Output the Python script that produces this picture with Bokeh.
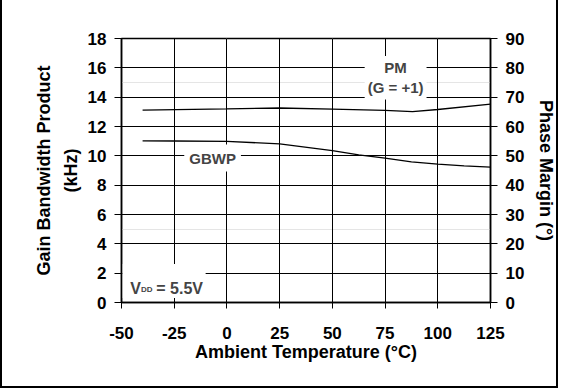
import math
from bokeh.plotting import figure
from bokeh.models import Range1d, LinearAxis, Label, BoxAnnotation, FixedTicker, Grid
from bokeh.embed import file_html
from bokeh.resources import INLINE

# ---- data ----
temperature_gbwp = [-40, -25, 0, 25, 50, 62.5, 75, 87.5, 100, 112.5, 125]
gbwp_khz = [11.02, 11.01, 10.98, 10.82, 10.36, 10.07, 9.84, 9.59, 9.43, 9.32, 9.23]
temperature_pm = [-40, 0, 25, 50, 75, 88, 100, 125]
phase_margin_deg = [65.6, 66.0, 66.3, 65.9, 65.5, 65.1, 65.8, 67.6]

x_ticks = [-50, -25, 0, 25, 50, 75, 100, 125]
x_tick_labels = ["-50", "-25", "0", "25", "50", "75", "100", "125"]
gbwp_ticks = [0, 2, 4, 6, 8, 10, 12, 14, 16, 18]
pm_ticks = [0, 10, 20, 30, 40, 50, 60, 70, 80, 90]

FONT = "Liberation Sans"
TICK_SIZE = "17px"
TITLE_SIZE = "18px"
LABEL_SIZE = "15px"

p = figure(
    width=558, height=392,
    x_range=Range1d(-50, 125), y_range=Range1d(0, 18),
    output_backend="svg", toolbar_location=None,
    min_border_left=119, min_border_right=70,
    min_border_top=40, min_border_bottom=88,
    x_axis_location=None, y_axis_location=None,
    styles={"border": "2px solid black", "margin-top": "-4px"},
)
p.extra_y_ranges = {"pm": Range1d(0, 90)}
p.background_fill_color = "white"
p.border_fill_color = "white"
p.outline_line_color = "black"
p.outline_line_width = 1.5


def style_axis(ax):
    ax.axis_line_color = "black"
    ax.axis_line_width = 1.5
    ax.major_tick_line_color = "black"
    ax.major_tick_line_width = 1
    ax.major_tick_in = 0
    ax.major_tick_out = 7
    ax.minor_tick_line_color = None
    ax.major_label_text_font = FONT
    ax.major_label_text_font_style = "bold"
    ax.major_label_text_font_size = TICK_SIZE
    ax.major_label_text_color = "black"
    ax.axis_label_text_font = FONT
    ax.axis_label_text_font_style = "bold"
    ax.axis_label_text_font_size = TITLE_SIZE
    ax.axis_label_text_color = "black"


xaxis = LinearAxis(ticker=FixedTicker(ticks=x_ticks), axis_label="Ambient Temperature (°C)")
style_axis(xaxis)
xaxis.major_tick_out = 6
xaxis.major_label_standoff = 18
xaxis.axis_label_standoff = 0
xaxis.major_label_overrides = {t: s for t, s in zip(x_ticks, x_tick_labels)}
p.add_layout(xaxis, "below")

yaxis = LinearAxis(ticker=FixedTicker(ticks=gbwp_ticks), axis_label="(kHz)")
style_axis(yaxis)
yaxis.major_label_standoff = 8
yaxis.axis_label_standoff = 4
p.add_layout(yaxis, "left")

yaxis2 = LinearAxis(ticker=FixedTicker(ticks=[]), axis_label="Gain Bandwidth Product")
style_axis(yaxis2)
yaxis2.axis_line_color = None
yaxis2.major_tick_out = 0
yaxis2.major_label_standoff = 0
yaxis2.axis_label_standoff = 4
p.add_layout(yaxis2, "left")

raxis = LinearAxis(y_range_name="pm", ticker=FixedTicker(ticks=pm_ticks), axis_label="Phase Margin (°)")
style_axis(raxis)
raxis.major_label_standoff = 8
raxis.axis_label_standoff = 9
p.add_layout(raxis, "right")

p.add_layout(Grid(dimension=0, ticker=FixedTicker(ticks=x_ticks),
                  grid_line_color="black", grid_line_width=1))
p.add_layout(Grid(dimension=1, ticker=FixedTicker(ticks=gbwp_ticks),
                  grid_line_color="black", grid_line_width=1))

# curves
p.line(temperature_gbwp, gbwp_khz, line_color="black", line_width=1.3)
p.line(temperature_pm, phase_margin_deg, line_color="black", line_width=1.3, y_range_name="pm")

# text labels in the plot
p.add_layout(Label(x=-6.8, y=9.85, text="GBWP", text_align="center", text_baseline="middle",
                   text_font=FONT, text_font_style="bold", text_font_size=LABEL_SIZE,
                   background_fill_color="white", padding=5))
p.add_layout(Label(x=80, y=76.6, y_range_name="pm", text="PM\n(G = +1)",
                   text_align="center", text_baseline="middle",
                   text_font=FONT, text_font_style="bold", text_font_size=LABEL_SIZE,
                   background_fill_color="white", padding=3))

p.add_layout(BoxAnnotation(left=-49.6, right=-10.1, bottom=0.31, top=2.63,
                           fill_color="white", fill_alpha=1, line_color=None, level="underlay"))
p.add_layout(Label(x=-45.9, y=0.97, text="V", text_align="left", text_baseline="alphabetic",
                   text_font=FONT, text_font_style="bold", text_font_size="16px"))
p.add_layout(Label(x=-40.8, y=0.87, text="DD", text_align="left", text_baseline="alphabetic",
                   text_font=FONT, text_font_style="bold", text_font_size="8px"))
p.add_layout(Label(x=-33.5, y=0.97, text="= 5.5V", text_align="left", text_baseline="alphabetic",
                   text_font=FONT, text_font_style="bold", text_font_size="16px"))

open("out.html", "w").write(file_html(p, INLINE))
